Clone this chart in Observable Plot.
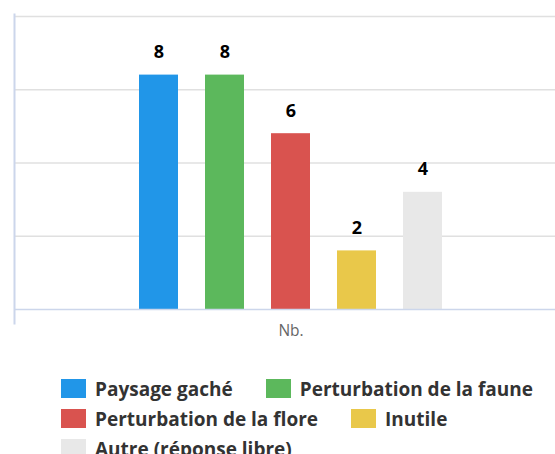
<!DOCTYPE html>
<html>
<head>
<meta charset="utf-8">
<script src="https://cdn.jsdelivr.net/npm/d3@7"></script>
<script src="https://cdn.jsdelivr.net/npm/@observablehq/plot@0.6"></script>
<style>
  html, body { margin: 0; padding: 0; background: #fff; overflow: hidden; width: 555px; height: 454px; }
  #chart svg { display: block; }
  .legend { position: absolute; left: 61px; top: 379px; width: 485px; display: flex; flex-wrap: wrap; column-gap: 33px; row-gap: 11px;
    font-family: "Open Sans", sans-serif; font-weight: bold; font-size: 19px; color: #333; }
  .item { display: flex; align-items: center; height: 19px; white-space: nowrap; }
  .sw { width: 25px; height: 19px; margin-right: 9px; flex: none; }
</style>
</head>
<body>
<div id="chart"></div>
<div class="legend" id="legend"></div>
<script>
const category = "Nb.";
const series = ["Paysage gaché", "Perturbation de la faune", "Perturbation de la flore", "Inutile", "Autre (réponse libre)"];
const values = [8, 8, 6, 2, 4];
const colors = ["#2196e8", "#5cb85c", "#d9534f", "#e9c84a", "#e8e8e8"];
const yTicks = [0, 2.5, 5, 7.5, 10];

const data = series.map((s, i) => ({series: s, value: values[i], category}));

const plot = Plot.plot({
  width: 555,
  height: 350,
  marginLeft: 14,
  marginRight: 0,
  marginTop: 14,
  marginBottom: 27,
  style: {background: "white", fontFamily: "'Open Sans', sans-serif"},
  x: {domain: series, range: [14, 567], paddingInner: 0.41, paddingOuter: 1.89, axis: null},
  y: {domain: [0, 10], range: [309, 16], axis: null},
  color: {domain: series, range: colors},
  marks: [
    Plot.ruleY(yTicks.filter(d => d > 0), {y: d => d, stroke: "#e0e0e0", strokeWidth: 1.5}),
    Plot.frame({anchor: "left", stroke: "#ccd6eb", strokeWidth: 2}),
    Plot.barY(data, {x: "series", y: "value", fill: "series"}),
    Plot.ruleY([0], {stroke: "#ccd6eb", strokeWidth: 1.5}),
    Plot.text(data, {x: "series", y: "value", text: d => String(d.value), dy: -17, lineAnchor: "bottom",
      fontWeight: "bold", fontSize: 18, fill: "#000", stroke: "white", strokeWidth: 2, paintOrder: "stroke"}),
    Plot.text([{series: series[2], label: category}], {x: "series", text: "label", frameAnchor: "bottom", dy: 8,
      lineAnchor: "middle", fontSize: 15.5, fill: "#666"})
  ]
});
document.getElementById("chart").appendChild(plot);

const legend = document.getElementById("legend");
series.forEach((s, i) => {
  const it = document.createElement("div");
  it.className = "item";
  const sw = document.createElement("span");
  sw.className = "sw";
  sw.style.background = colors[i];
  const t = document.createElement("span");
  t.textContent = s;
  it.appendChild(sw);
  it.appendChild(t);
  legend.appendChild(it);
});
</script>
</body>
</html>
